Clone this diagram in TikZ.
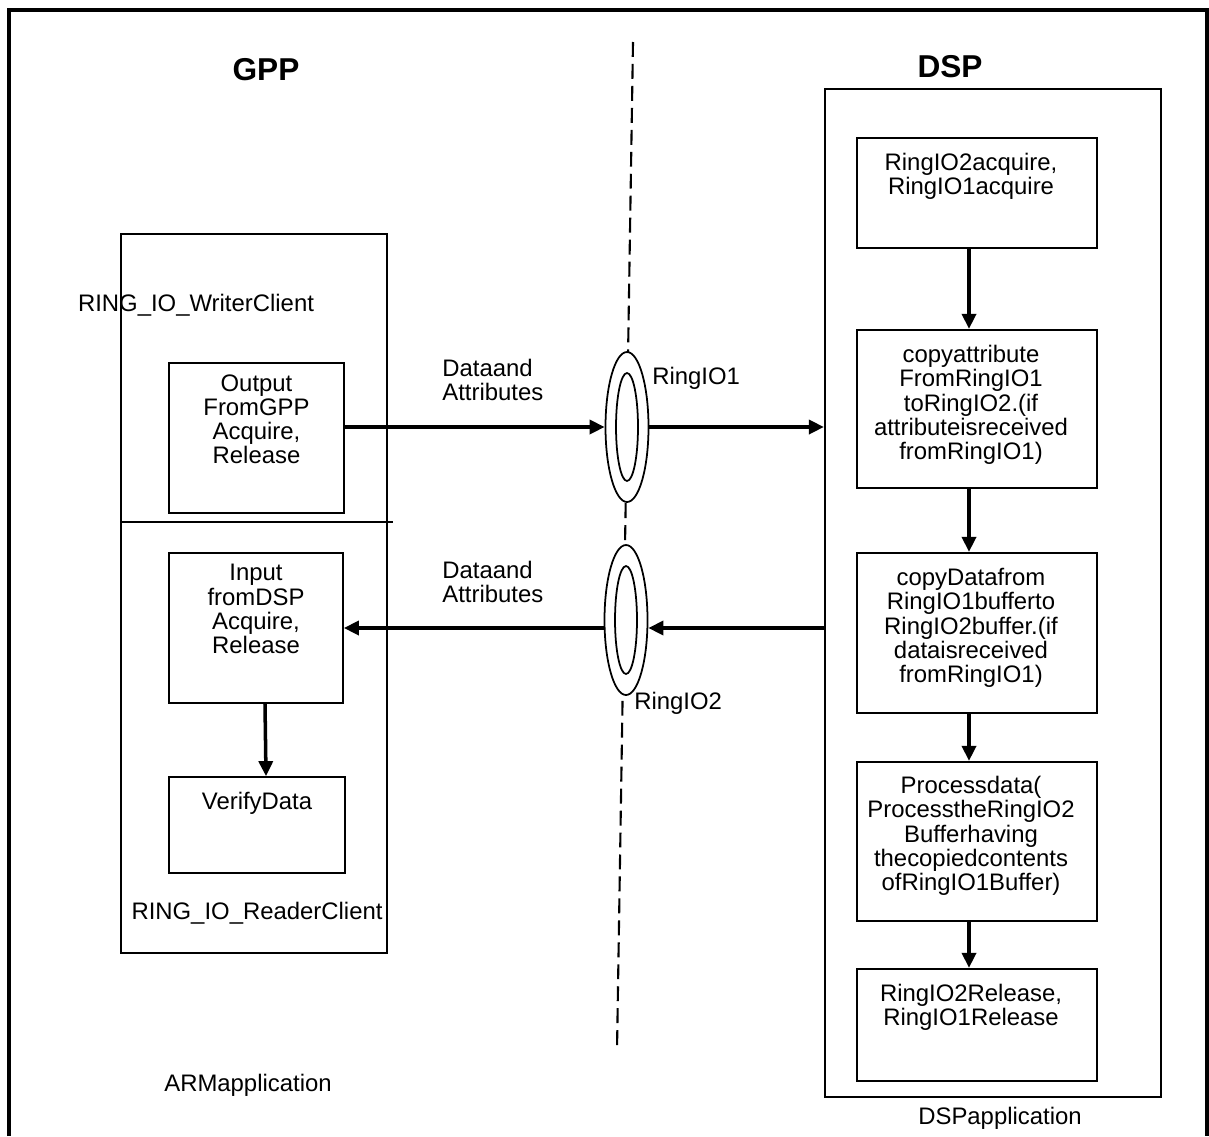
\documentclass[tikz,border=0pt]{standalone}
\usepackage{fontspec}
\setmainfont{Liberation Sans}
\usetikzlibrary{arrows.meta,shapes.geometric}

\tikzset{
  box/.style={draw,line width=1pt,inner sep=0pt},
  dspbox/.style={draw,line width=1.3pt,inner sep=0pt,minimum width=4.8cm},
  ring/.style={ellipse,draw,fill=white,line width=1pt,inner sep=0pt},
  txt/.style={inner sep=0pt,align=center,font=\fontsize{13.6}{13.8}\selectfont},
  head/.style={inner sep=0pt,font=\fontsize{18}{20}\selectfont\bfseries},
  arr/.style={line width=2pt,-{Triangle[length=0.3cm,width=0.28cm]}}
}

\begin{document}
\begin{tikzpicture}[x=0.02cm,y=-0.02cm]
\useasboundingbox (0,0) rectangle (1209,1136);
\draw[line width=2pt] (9,1136) -- (9,10) -- (1207,10) -- (1207,1136);
\draw[line width=1.2pt,dash pattern=on 8.5pt off 4pt] (633,42) -- (617,1050);

\node[head] (gpp) at (266,70) {GPP};
\node[head] (dsp) at (950,67) {DSP};

% ARM side
\node[box,minimum width=5.32cm,minimum height=14.38cm] (arm) at (254,593.5) {};
\draw[line width=1pt] (121,522) -- (393,522);
\node[txt] (wrlbl) at (196,305) {RING\_IO\_WriterClient};
\node[txt] (rdlbl) at (257,913) {RING\_IO\_ReaderClient};
\node[txt] (armlbl) at (248,1085) {ARMapplication};

\node[box,minimum width=3.5cm,minimum height=3cm] (wr) at (256.5,438) {};
\node[txt,anchor=north] (wrtxt) at ([yshift=-0.24cm]wr.north) {Output\\FromGPP\\Acquire,\\Release};
\node[box,minimum width=3.48cm,minimum height=3cm] (in) at (256,628) {};
\node[txt,anchor=north] (intxt) at ([yshift=-0.24cm]in.north) {Input\\fromDSP\\Acquire,\\Release};
\node[box,minimum width=3.52cm,minimum height=1.92cm] (vf) at (257,825) {};
\node[txt,anchor=north] (vftxt) at ([yshift=-0.31cm]vf.north) {VerifyData};

% rings
\node[ring,minimum width=0.86cm,minimum height=3cm] (r1) at (627,427) {};
\node[ring,minimum width=0.44cm,minimum height=2.16cm] (r1in) at (627,427) {};
\node[ring,minimum width=0.86cm,minimum height=3cm] (r2) at (626,620) {};
\node[ring,minimum width=0.44cm,minimum height=2.16cm] (r2in) at (626,620) {};
\node[txt,anchor=west] (r1lbl) at (652,378) {RingIO1};
\node[txt,anchor=west] (r2lbl) at (634,703) {RingIO2};
\node[txt,anchor=west,align=left] (da1) at (442,380) {Dataand\\Attributes};
\node[txt,anchor=west,align=left] (da2) at (442,582) {Dataand\\Attributes};

% DSP side
\node[box,line width=1.3pt,minimum width=6.72cm,minimum height=20.16cm] (dspapp) at (993,593) {};
\node[txt] (dsplbl) at (1000,1118) {DSPapplication};

\node[dspbox,minimum height=2.2cm] (acq) at (977,193) {};
\node[txt,anchor=north] (acqtxt) at ([yshift=-0.32cm,xshift=-0.12cm]acq.north) {RingIO2acquire,\\RingIO1acquire};
\node[dspbox,minimum height=3.16cm] (cpa) at (977,409) {};
\node[txt,anchor=north] (cpatxt) at ([yshift=-0.32cm,xshift=-0.12cm]cpa.north) {copyattribute\\FromRingIO1\\toRingIO2.(if\\attributeisreceived\\fromRingIO1)};
\node[dspbox,minimum height=3.2cm] (cpd) at (977,633) {};
\node[txt,anchor=north] (cpdtxt) at ([yshift=-0.32cm,xshift=-0.12cm]cpd.north) {copyDatafrom\\RingIO1bufferto\\RingIO2buffer.(if\\dataisreceived\\fromRingIO1)};
\node[dspbox,minimum height=3.18cm] (proc) at (977,841.5) {};
\node[txt,anchor=north] (proctxt) at ([yshift=-0.3cm,xshift=-0.12cm]proc.north) {Processdata(\\ProcesstheRingIO2\\Bufferhaving\\thecopiedcontents\\ofRingIO1Buffer)};
\node[dspbox,minimum height=2.24cm] (rel) at (977,1025) {};
\node[txt,anchor=north] (reltxt) at ([yshift=-0.32cm,xshift=-0.12cm]rel.north) {RingIO2Release,\\RingIO1Release};

\draw[arr] (wr.east |- r1.west) -- (r1.west);
\draw[arr] (r1.east) -- (dspapp.west |- r1.east);
\draw[arr] (dspapp.west |- in.east) -- (r2.east |- in.east);
\draw[arr] (r2.west |- in.east) -- (in.east);
\draw[arr] ([xshift=0.18cm]in.south) -- ([xshift=0.18cm]vf.north);
\draw[arr] ([xshift=-0.16cm]acq.south) -- ([xshift=-0.16cm]cpa.north);
\draw[arr] ([xshift=-0.16cm]cpa.south) -- ([xshift=-0.16cm]cpd.north);
\draw[arr] ([xshift=-0.16cm]cpd.south) -- ([xshift=-0.16cm]proc.north);
\draw[arr] ([xshift=-0.16cm]proc.south) -- ([xshift=-0.16cm]rel.north);
\end{tikzpicture}
\end{document}
